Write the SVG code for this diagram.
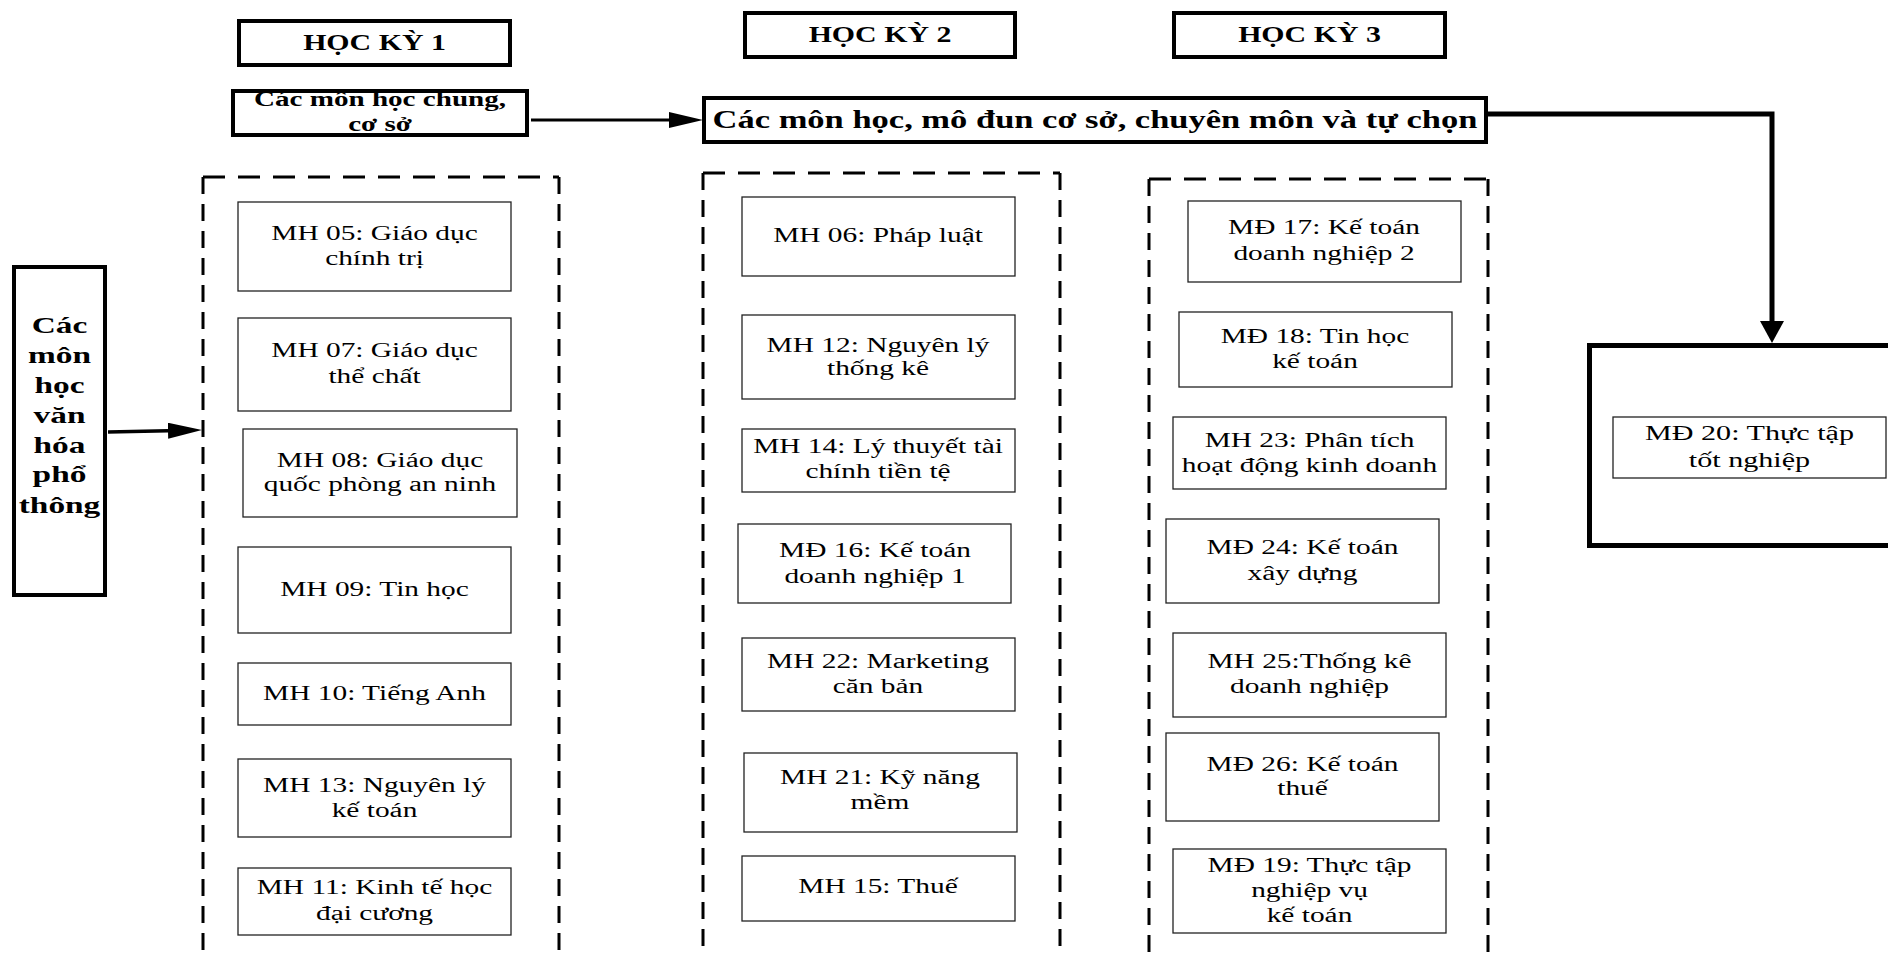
<svg xmlns="http://www.w3.org/2000/svg" width="1888" height="956" viewBox="0 0 1888 956">
<style>
.t{font-family:"Liberation Serif","Times New Roman",serif;font-size:20px;text-anchor:middle;fill:#000}
.tb{font-weight:bold}
.h{font-size:23px}
.box{fill:#fff;stroke:#222;stroke-width:1.3}
.tk{fill:#fff;stroke:#000;stroke-width:4}
.dh{fill:none;stroke:#000;stroke-width:3;stroke-dasharray:22 13}
.dv{fill:none;stroke:#000;stroke-width:3;stroke-dasharray:17 10}
.ln{fill:none;stroke:#000}
</style>
<defs>
<marker id="ah" markerUnits="userSpaceOnUse" markerWidth="34" markerHeight="16" refX="0" refY="8" orient="auto"><path d="M0,0 L34,8 L0,16 Z" fill="#000"/></marker>
<marker id="ah2" markerUnits="userSpaceOnUse" markerWidth="22" markerHeight="24" refX="0" refY="12" orient="auto"><path d="M0,0 L22,12 L0,24 Z" fill="#000"/></marker>
</defs>
<rect width="1888" height="956" fill="#fff"/>

<g id="containers">
<path class="dh" d="M203,177 H559"/>
<path class="dv" d="M203,177 V960 M559,177 V960"/>
<path class="dh" d="M703,173 H1060"/>
<path class="dv" d="M703,173 V960 M1060,173 V960"/>
<path class="dh" d="M1149,179 H1488"/>
<path class="dv" d="M1149,179 V960 M1488,179 V960"/>
</g>

<g id="connectors">
<path class="ln" stroke-width="3" d="M531,120 H669" marker-end="url(#ah)"/>
<path class="ln" stroke-width="3.5" d="M108,432 L168,430.7" marker-end="url(#ah)"/>
<path class="ln" stroke-width="5" d="M1488,114 H1772 V321" marker-end="url(#ah2)"/>
</g>

<g id="hk1"><rect class="tk" x="239" y="21" width="271" height="44"/><text class="t tb h" transform="translate(374.5 0) scale(1.3 1)"><tspan x="0" y="50">HỌC KỲ 1</tspan></text></g>
<g id="hk2"><rect class="tk" x="745" y="13" width="270" height="44"/><text class="t tb h" transform="translate(880 0) scale(1.3 1)"><tspan x="0" y="42.5">HỌC KỲ 2</tspan></text></g>
<g id="hk3"><rect class="tk" x="1174" y="13" width="271" height="44"/><text class="t tb h" transform="translate(1309.5 0) scale(1.3 1)"><tspan x="0" y="42.5">HỌC KỲ 3</tspan></text></g>

<g id="chung"><rect class="tk" x="233" y="91" width="294" height="44"/><text class="t tb" style="font-size:20.5px" transform="translate(380 0) scale(1.42 1)"><tspan x="0" y="106">Các môn học chung,</tspan><tspan x="0" y="131.5">cơ sở</tspan></text></g>
<g id="chuyenmon"><rect class="tk" x="704" y="98" width="782" height="44"/><text class="t tb" style="font-size:25px" transform="translate(1095 0) scale(1.38 1)"><tspan x="0" y="128">Các môn học, mô đun cơ sở, chuyên môn và tự chọn</tspan></text></g>
<g id="vanhoa"><rect class="tk" x="14" y="267" width="91" height="328"/><text class="t tb" style="font-size:23.5px" transform="translate(59.5 0) scale(1.42 1)"><tspan x="0" y="333">Các</tspan><tspan x="0" y="363">môn</tspan><tspan x="0" y="393">học</tspan><tspan x="0" y="423">văn</tspan><tspan x="0" y="453">hóa</tspan><tspan x="0" y="482">phổ</tspan><tspan x="0" y="513">thông</tspan></text></g>

<g id="mh05"><rect class="box" x="238" y="202" width="273" height="89"/><text class="t" transform="translate(374.5 0) scale(1.47 1)"><tspan x="0" y="240">MH 05: Giáo dục</tspan><tspan x="0" y="265">chính trị</tspan></text></g>
<g id="mh07"><rect class="box" x="238" y="318" width="273" height="93"/><text class="t" transform="translate(374.5 0) scale(1.47 1)"><tspan x="0" y="357.5">MH 07: Giáo dục</tspan><tspan x="0" y="383">thể chất</tspan></text></g>
<g id="mh08"><rect class="box" x="243" y="429" width="274" height="88"/><text class="t" transform="translate(380 0) scale(1.47 1)"><tspan x="0" y="467">MH 08: Giáo dục</tspan><tspan x="0" y="491">quốc phòng an ninh</tspan></text></g>
<g id="mh09"><rect class="box" x="238" y="547" width="273" height="86"/><text class="t" transform="translate(374.5 0) scale(1.47 1)"><tspan x="0" y="596">MH 09: Tin học</tspan></text></g>
<g id="mh10"><rect class="box" x="238" y="663" width="273" height="62"/><text class="t" transform="translate(374.5 0) scale(1.47 1)"><tspan x="0" y="700">MH 10: Tiếng Anh</tspan></text></g>
<g id="mh13"><rect class="box" x="238" y="759" width="273" height="78"/><text class="t" transform="translate(374.5 0) scale(1.47 1)"><tspan x="0" y="792">MH 13: Nguyên lý</tspan><tspan x="0" y="817">kế toán</tspan></text></g>
<g id="mh11"><rect class="box" x="238" y="868" width="273" height="67"/><text class="t" transform="translate(374.5 0) scale(1.47 1)"><tspan x="0" y="894">MH 11: Kinh tế học</tspan><tspan x="0" y="920">đại cương</tspan></text></g>

<g id="mh06"><rect class="box" x="742" y="197" width="273" height="79"/><text class="t" transform="translate(878 0) scale(1.47 1)"><tspan x="0" y="242">MH 06: Pháp luật</tspan></text></g>
<g id="mh12"><rect class="box" x="742" y="315" width="273" height="84"/><text class="t" transform="translate(878 0) scale(1.47 1)"><tspan x="0" y="352">MH 12: Nguyên lý</tspan><tspan x="0" y="375">thống kê</tspan></text></g>
<g id="mh14"><rect class="box" x="742" y="429" width="273" height="63"/><text class="t" transform="translate(878 0) scale(1.47 1)"><tspan x="0" y="453">MH 14: Lý thuyết tài</tspan><tspan x="0" y="478">chính tiền tệ</tspan></text></g>
<g id="md16"><rect class="box" x="738" y="524" width="273" height="79"/><text class="t" transform="translate(875 0) scale(1.47 1)"><tspan x="0" y="557">MĐ 16: Kế toán</tspan><tspan x="0" y="583">doanh nghiệp 1</tspan></text></g>
<g id="mh22"><rect class="box" x="742" y="638" width="273" height="73"/><text class="t" transform="translate(878 0) scale(1.47 1)"><tspan x="0" y="668">MH 22: Marketing</tspan><tspan x="0" y="693">căn bản</tspan></text></g>
<g id="mh21"><rect class="box" x="744" y="753" width="273" height="79"/><text class="t" transform="translate(880 0) scale(1.47 1)"><tspan x="0" y="784">MH 21: Kỹ năng</tspan><tspan x="0" y="809">mềm</tspan></text></g>
<g id="mh15"><rect class="box" x="742" y="856" width="273" height="65"/><text class="t" transform="translate(878 0) scale(1.47 1)"><tspan x="0" y="893">MH 15: Thuế</tspan></text></g>

<g id="md17"><rect class="box" x="1188" y="201" width="273" height="81"/><text class="t" transform="translate(1324 0) scale(1.47 1)"><tspan x="0" y="234">MĐ 17: Kế toán</tspan><tspan x="0" y="260">doanh nghiệp 2</tspan></text></g>
<g id="md18"><rect class="box" x="1179" y="312" width="273" height="75"/><text class="t" transform="translate(1315 0) scale(1.47 1)"><tspan x="0" y="343">MĐ 18: Tin học</tspan><tspan x="0" y="368">kế toán</tspan></text></g>
<g id="mh23"><rect class="box" x="1173" y="417" width="273" height="72"/><text class="t" transform="translate(1309.5 0) scale(1.47 1)"><tspan x="0" y="447">MH 23: Phân tích</tspan><tspan x="0" y="472">hoạt động kinh doanh</tspan></text></g>
<g id="md24"><rect class="box" x="1166" y="519" width="273" height="84"/><text class="t" transform="translate(1302.5 0) scale(1.47 1)"><tspan x="0" y="554">MĐ 24: Kế toán</tspan><tspan x="0" y="580">xây dựng</tspan></text></g>
<g id="mh25"><rect class="box" x="1173" y="633" width="273" height="84"/><text class="t" transform="translate(1309.5 0) scale(1.47 1)"><tspan x="0" y="668">MH 25:Thống kê</tspan><tspan x="0" y="693">doanh nghiệp</tspan></text></g>
<g id="md26"><rect class="box" x="1166" y="733" width="273" height="88"/><text class="t" transform="translate(1302.5 0) scale(1.47 1)"><tspan x="0" y="771">MĐ 26: Kế toán</tspan><tspan x="0" y="795">thuế</tspan></text></g>
<g id="md19"><rect class="box" x="1173" y="849" width="273" height="84"/><text class="t" transform="translate(1309.5 0) scale(1.47 1)"><tspan x="0" y="872">MĐ 19: Thực tập</tspan><tspan x="0" y="897">nghiệp vụ</tspan><tspan x="0" y="922">kế toán</tspan></text></g>

<g id="md20"><rect x="1589.5" y="345.5" width="320" height="200" fill="#fff" stroke="#000" stroke-width="5"/><rect class="box" x="1613" y="417" width="273" height="61"/><text class="t" style="font-size:20.5px" transform="translate(1749.5 0) scale(1.47 1)"><tspan x="0" y="440">MĐ 20: Thực tập</tspan><tspan x="0" y="467">tốt nghiệp</tspan></text></g>
</svg>
